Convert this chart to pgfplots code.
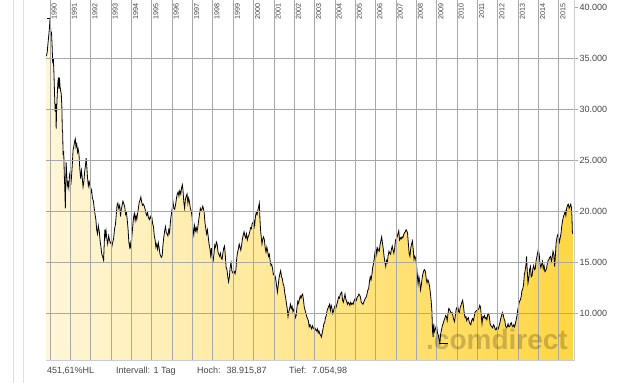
\documentclass[border=0pt]{standalone}
\usepackage{graphicx}
\usepackage{pgfplots}
\usepackage{pgfplotstable}
\pgfplotsset{compat=1.18}
\usepackage{fontspec}
\setmainfont{Liberation Sans}
\definecolor{cl}{RGB}{255,246,216}
\definecolor{cr}{RGB}{255,214,66}
\definecolor{gridc}{RGB}{168,168,168}
\definecolor{framec}{RGB}{200,205,216}
\definecolor{txt}{RGB}{70,70,70}
\pgfplotstableread{
t v
1989.82 35200
1989.86 35600
1989.90 36500
1989.94 37300
1989.97 38000
1990.00 38900
1990.02 38300
1990.04 37200
1990.07 37600
1990.10 36200
1990.13 34500
1990.16 35000
1990.19 33500
1990.22 31500
1990.25 29800
1990.28 30500
1990.30 28100
1990.32 29800
1990.35 31300
1990.38 32500
1990.41 33100
1990.44 32000
1990.46 33100
1990.49 32200
1990.52 31800
1990.55 31500
1990.58 30200
1990.60 28000
1990.62 27700
1990.64 25500
1990.67 25900
1990.70 23500
1990.72 22500
1990.75 20300
1990.77 23000
1990.79 24800
1990.82 23500
1990.85 22500
1990.88 22800
1990.92 22300
1990.95 23500
1990.98 23800
1991.02 22600
1991.05 23300
1991.09 24500
1991.13 26000
1991.17 26400
1991.21 26900
1991.24 27100
1991.27 26300
1991.31 26600
1991.35 25800
1991.38 26100
1991.42 25600
1991.46 24200
1991.50 23200
1991.54 24000
1991.58 23300
1991.62 22400
1991.66 22900
1991.70 23900
1991.74 24500
1991.77 25200
1991.80 24500
1991.84 23300
1991.88 22500
1991.92 22900
1991.96 22500
1992.00 21800
1992.04 22100
1992.08 21300
1992.13 21000
1992.17 20300
1992.21 19700
1992.25 19200
1992.29 18200
1992.33 17800
1992.37 18600
1992.42 18000
1992.46 17100
1992.50 16500
1992.54 15800
1992.58 15600
1992.63 15200
1992.66 16800
1992.69 18200
1992.72 17600
1992.75 18100
1992.79 17300
1992.83 16800
1992.88 17600
1992.92 17200
1992.96 16900
1993.00 17000
1993.04 16600
1993.08 17000
1993.12 17300
1993.17 18300
1993.21 18700
1993.25 19600
1993.29 20600
1993.33 20800
1993.37 20300
1993.42 20600
1993.46 19500
1993.50 20200
1993.54 20600
1993.58 21000
1993.63 20700
1993.67 20400
1993.71 19700
1993.75 19900
1993.79 19200
1993.83 18300
1993.87 17000
1993.91 16500
1993.94 16900
1993.98 16300
1994.02 17600
1994.06 18500
1994.10 19400
1994.14 19800
1994.18 19100
1994.22 19600
1994.26 19200
1994.30 19800
1994.34 20300
1994.38 20900
1994.42 21100
1994.46 21400
1994.50 20900
1994.54 20600
1994.58 20700
1994.63 20500
1994.67 20200
1994.71 19800
1994.75 19600
1994.79 19900
1994.83 19400
1994.88 19200
1994.92 19500
1994.96 19300
1995.00 19400
1995.04 18800
1995.08 18500
1995.12 17600
1995.16 17200
1995.20 16500
1995.24 16800
1995.28 16300
1995.32 16900
1995.36 16400
1995.40 15800
1995.44 15600
1995.48 15500
1995.51 15700
1995.55 16800
1995.59 17500
1995.63 18100
1995.67 18500
1995.71 17900
1995.75 17800
1995.79 17600
1995.83 18200
1995.87 17900
1995.91 18900
1995.95 19600
1996.00 20300
1996.04 20900
1996.08 20300
1996.12 20200
1996.17 20700
1996.21 21300
1996.25 21700
1996.29 21900
1996.33 21500
1996.37 22000
1996.42 21700
1996.46 22300
1996.50 22600
1996.53 22100
1996.57 20900
1996.61 20300
1996.65 21200
1996.69 21500
1996.73 21700
1996.77 20800
1996.81 21300
1996.85 20900
1996.89 20300
1996.94 20000
1996.98 19400
1997.02 18300
1997.06 17700
1997.10 18600
1997.14 18100
1997.18 18400
1997.22 18000
1997.26 18500
1997.30 19100
1997.34 19700
1997.38 20300
1997.42 20100
1997.46 20200
1997.50 20500
1997.53 20300
1997.57 19900
1997.61 18900
1997.65 18300
1997.69 17800
1997.73 18200
1997.77 17500
1997.81 16800
1997.85 16400
1997.89 15700
1997.93 16400
1997.97 15300
1998.01 15100
1998.05 15800
1998.09 16700
1998.13 16500
1998.17 17000
1998.21 16800
1998.25 16000
1998.29 15800
1998.33 15600
1998.37 15900
1998.41 15400
1998.45 15300
1998.49 15900
1998.53 16400
1998.57 16600
1998.61 15700
1998.65 14500
1998.69 14300
1998.73 13600
1998.77 13100
1998.81 13600
1998.85 14600
1998.89 15000
1998.93 14200
1998.97 14000
1999.01 13900
1999.05 14100
1999.09 13900
1999.13 14300
1999.17 15400
1999.21 16000
1999.25 16300
1999.29 16800
1999.33 16500
1999.37 16200
1999.41 16700
1999.45 17300
1999.49 17700
1999.53 18000
1999.57 17600
1999.61 17400
1999.65 17800
1999.69 17200
1999.73 17500
1999.77 17700
1999.81 18000
1999.85 18400
1999.89 18300
1999.93 18800
1999.97 18900
2000.01 19100
2000.05 18600
2000.09 19500
2000.13 19900
2000.17 19700
2000.21 20100
2000.25 20500
2000.28 20800
2000.31 19300
2000.34 18200
2000.37 17600
2000.41 16800
2000.45 17300
2000.49 17500
2000.53 17200
2000.57 16400
2000.61 16000
2000.65 16500
2000.69 16100
2000.73 15600
2000.77 15800
2000.81 15200
2000.85 14700
2000.89 14800
2000.93 14400
2000.97 13800
2001.01 13900
2001.05 13700
2001.09 13300
2001.13 12700
2001.17 12100
2001.21 12800
2001.25 13500
2001.29 13900
2001.33 14200
2001.37 13600
2001.41 13400
2001.45 12900
2001.49 12700
2001.53 12000
2001.57 11600
2001.61 11000
2001.65 10500
2001.69 9700
2001.73 10200
2001.77 10500
2001.81 10900
2001.85 10500
2001.89 10700
2001.93 10200
2001.97 10400
2002.01 10100
2002.05 9600
2002.09 9800
2002.13 10600
2002.17 11200
2002.21 11000
2002.25 11400
2002.29 11700
2002.33 11500
2002.37 11800
2002.41 11900
2002.45 11300
2002.49 10600
2002.53 10300
2002.57 10000
2002.61 9700
2002.65 9500
2002.69 9300
2002.73 8700
2002.77 8900
2002.81 8700
2002.85 8500
2002.89 8800
2002.93 8600
2002.97 8500
2003.01 8600
2003.05 8400
2003.09 8300
2003.13 8500
2003.17 8100
2003.21 8300
2003.25 8000
2003.29 7900
2003.33 7700
2003.37 8100
2003.41 8500
2003.45 9000
2003.49 9100
2003.53 9600
2003.57 9800
2003.61 10300
2003.65 10500
2003.69 10700
2003.73 10900
2003.77 10300
2003.81 10800
2003.85 10500
2003.89 10000
2003.93 10300
2003.97 10600
2004.01 10800
2004.05 10600
2004.09 10900
2004.13 11200
2004.17 11600
2004.21 11500
2004.25 11800
2004.29 12000
2004.33 12100
2004.37 11300
2004.41 11100
2004.45 11500
2004.49 11900
2004.53 11400
2004.57 11200
2004.61 10900
2004.65 11100
2004.69 11000
2004.73 10800
2004.77 11100
2004.81 10900
2004.85 11000
2004.89 10900
2004.93 11200
2004.97 11400
2005.01 11500
2005.05 11300
2005.09 11600
2005.13 11700
2005.17 11900
2005.21 11800
2005.25 11600
2005.29 11100
2005.33 11000
2005.37 10900
2005.41 11100
2005.45 11300
2005.49 11500
2005.53 11600
2005.57 11900
2005.61 12300
2005.65 12400
2005.69 13100
2005.73 13600
2005.77 13300
2005.81 13800
2005.85 14500
2005.89 14900
2005.93 15400
2005.97 16100
2006.01 16400
2006.05 15800
2006.09 16400
2006.13 16200
2006.17 16100
2006.21 16700
2006.25 17100
2006.29 17500
2006.33 16900
2006.37 16300
2006.41 15600
2006.45 15000
2006.49 14600
2006.53 15200
2006.57 15000
2006.61 15700
2006.65 16100
2006.69 15900
2006.73 15800
2006.77 16300
2006.81 16600
2006.85 16200
2006.89 15900
2006.93 16400
2006.97 17200
2007.01 17300
2007.05 17500
2007.09 17800
2007.13 18100
2007.17 17200
2007.21 17400
2007.25 17300
2007.29 17500
2007.33 17400
2007.37 17700
2007.41 17900
2007.45 18000
2007.49 18200
2007.52 18100
2007.56 17900
2007.60 16900
2007.64 15900
2007.68 15600
2007.72 16400
2007.76 16800
2007.80 17100
2007.84 16300
2007.88 15300
2007.92 15600
2007.96 15400
2008.00 14800
2008.04 13800
2008.08 12900
2008.12 13600
2008.16 13100
2008.20 12300
2008.24 12800
2008.28 13500
2008.32 13900
2008.36 14200
2008.40 14300
2008.44 14100
2008.48 13400
2008.52 13000
2008.56 13300
2008.60 13100
2008.64 12700
2008.68 12100
2008.72 11300
2008.76 10200
2008.79 8300
2008.82 7700
2008.85 9000
2008.88 8200
2008.92 8400
2008.96 8700
2008.99 8900
2009.03 8100
2009.07 7900
2009.11 7500
2009.15 7100
2009.19 8000
2009.23 8400
2009.27 8800
2009.31 9000
2009.35 9300
2009.39 9500
2009.43 9800
2009.47 9700
2009.51 9300
2009.55 10000
2009.59 10500
2009.63 10400
2009.67 10200
2009.71 10000
2009.75 10100
2009.79 9800
2009.83 9400
2009.87 9200
2009.91 9800
2009.95 10400
2009.99 10600
2010.03 10700
2010.07 10200
2010.11 10100
2010.15 10600
2010.19 10800
2010.23 11100
2010.27 11300
2010.31 10700
2010.35 10000
2010.39 9600
2010.43 9700
2010.47 9300
2010.51 9500
2010.55 9600
2010.59 9200
2010.63 9000
2010.67 8900
2010.71 9300
2010.75 9500
2010.79 9300
2010.83 9600
2010.87 10100
2010.91 10200
2010.95 10300
2010.99 10300
2011.03 10400
2011.07 10500
2011.11 10800
2011.15 10600
2011.19 9600
2011.22 9000
2011.26 9700
2011.30 9600
2011.34 9800
2011.38 9500
2011.42 9600
2011.46 9400
2011.50 9900
2011.54 10000
2011.58 9700
2011.62 9000
2011.66 8800
2011.70 8700
2011.74 8600
2011.78 8900
2011.82 8800
2011.86 8500
2011.90 8400
2011.94 8600
2011.98 8400
2012.02 8500
2012.06 8800
2012.10 9100
2012.14 9500
2012.18 9800
2012.22 10100
2012.26 9900
2012.30 9500
2012.34 9300
2012.38 8800
2012.42 8600
2012.46 8700
2012.50 9000
2012.54 8700
2012.58 8700
2012.62 9000
2012.66 9100
2012.70 8800
2012.74 8700
2012.78 8900
2012.82 8700
2012.86 9000
2012.90 9400
2012.94 9800
2012.98 10400
2013.02 10800
2013.06 11200
2013.10 11300
2013.14 11600
2013.18 12200
2013.22 12400
2013.26 12800
2013.30 13800
2013.34 14200
2013.38 14800
2013.41 15600
2013.44 14300
2013.48 13000
2013.52 13500
2013.56 14300
2013.60 14600
2013.64 13600
2013.68 13700
2013.72 14400
2013.76 14700
2013.80 14300
2013.84 14400
2013.88 15200
2013.92 15600
2013.96 16000
2013.99 16300
2014.03 15800
2014.07 14900
2014.11 14500
2014.15 14800
2014.19 15100
2014.23 14400
2014.27 14700
2014.31 14100
2014.35 14200
2014.39 14400
2014.43 14900
2014.47 15200
2014.51 15300
2014.55 15500
2014.59 15600
2014.63 15100
2014.67 15500
2014.71 16100
2014.75 15800
2014.79 14600
2014.82 15500
2014.86 16900
2014.90 17400
2014.94 17700
2014.98 17500
2015.02 17000
2015.06 17400
2015.10 17800
2015.14 18600
2015.18 19100
2015.22 19500
2015.26 19700
2015.30 20000
2015.34 19600
2015.38 20300
2015.42 20600
2015.46 20700
2015.50 20300
2015.54 20500
2015.58 20700
2015.61 20400
2015.64 19500
2015.66 18000
2015.68 17800
}\nk
\begin{document}
\begin{tikzpicture}
\useasboundingbox[fill=white] (0,0) rectangle (642bp,383bp);
\draw[black!12] (13bp,0) -- (13bp,383bp);
\draw[black!12] (23bp,0) -- (23bp,383bp);
\begin{axis}[
  at={(46bp,23bp)}, anchor=south west,
  scale only axis, width=528bp, height=360bp,
  xmin=1989.80, xmax=2015.74,
  ymin=5450, ymax=40690,
  axis line style={draw=none},
  axis on top,
  clip=false,
  /pgf/number format/1000 sep={},
  /pgf/number format/assume math mode=true,
  xtick={1990,...,2015},
  xticklabels={},
  xtick style={draw=none},
  xtick align=inside,
  ytick={10000,15000,20000,25000,30000,35000},
  yticklabels={10.000,15.000,20.000,25.000,30.000,35.000},
  extra y ticks={40000},
  extra y tick labels={40.000},
  extra y tick style={grid=none},
  yticklabel pos=right,
  ytick pos=right,
  ytick align=outside,
  major tick length=4bp,
  ytick style={draw=gridc, line width=0.8bp},
  yticklabel style={font=\fontsize{9bp}{10bp}\selectfont, text=txt, inner sep=1.5bp},
  grid=major,
  major grid style={draw=gridc, line width=0.8bp},
]
\addplot[draw=none, left color=cl, right color=cr] table[x=t,y=v] {\nk} |- (axis cs:1989.82,5450) -- cycle;
\addplot[black, line width=0.8bp] table[x=t,y=v] {\nk};
\addplot[black, line width=0.6bp] coordinates {(2009.10,7055) (2009.55,7055)};
\addplot[black, line width=0.6bp] coordinates {(1989.85,38916) (1990.0,38916)};
\pgfplotsinvokeforeach{1990,...,2015}{
  \node[anchor=north west, inner sep=0pt, xshift=1.3bp, yshift=-3bp, text=txt,
    font=\fontsize{7.2bp}{8bp}\selectfont] at (axis cs:#1,40690) {\rotatebox{90}{#1}};
}
\end{axis}
\draw[framec, line width=0.8bp] (46bp,23bp) -- (574bp,23bp) -- (574bp,383bp);
\node[anchor=base west, inner sep=0, text=black, text opacity=0.2,
  font=\fontsize{28bp}{30bp}\selectfont\bfseries] at (426bp,34bp) {.comdirect};
\begin{scope}[every node/.style={anchor=base west, inner sep=0, text=txt,
   font=\fontsize{9bp}{10bp}\selectfont}]
\node at (47bp,10bp) {451,61\%HL};
\node at (116bp,10bp) {Intervall: 1 Tag};
\node at (197bp,10bp) {Hoch: \ 38.915,87};
\node at (289bp,10bp) {Tief: \ 7.054,98};
\end{scope}
\end{tikzpicture}
\end{document}
